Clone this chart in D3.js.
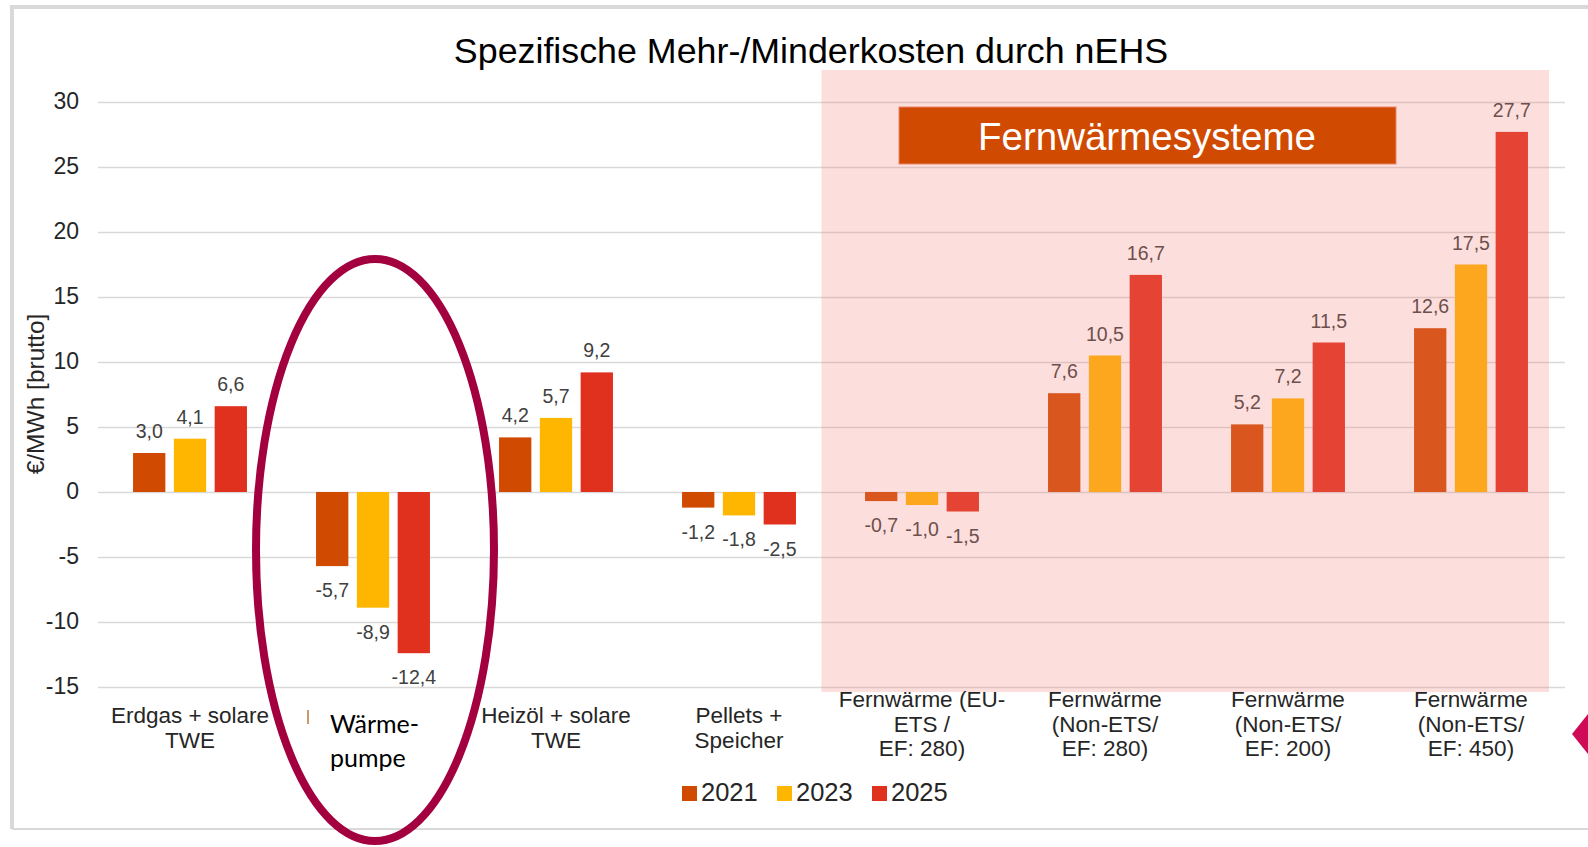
<!DOCTYPE html>
<html>
<head>
<meta charset="utf-8">
<script src="https://cdn.jsdelivr.net/npm/d3@7/dist/d3.min.js"></script>
<style>
  html, body { margin: 0; padding: 0; background: #fff; }
  svg { display: block; font-family: "Liberation Sans", Arial, sans-serif; }
</style>
</head>
<body>
<svg id="chart" width="1588" height="847"></svg>
<script>
// Daten
const categories = [
    'Erdgas + solare\nTWE',
    'Wärmepumpe',
    'Heizöl + solare\nTWE',
    'Pellets +\nSpeicher',
    'Fernwärme (EU-\nETS /\nEF: 280)',
    'Fernwärme\n(Non-ETS/\nEF: 280)',
    'Fernwärme\n(Non-ETS/\nEF: 200)',
    'Fernwärme\n(Non-ETS/\nEF: 450)'
];
const years = ['2021', '2023', '2025'];
const values2021 = [3.0, -5.7, 4.2, -1.2, -0.7, 7.6, 5.2, 12.6];
const values2023 = [4.1, -8.9, 5.7, -1.8, -1.0, 10.5, 7.2, 17.5];
const values2025 = [6.6, -12.4, 9.2, -2.5, -1.5, 16.7, 11.5, 27.7];
const yTicks = [-15, -10, -5, 0, 5, 10, 15, 20, 25, 30];
const yearColors = ['#D04A02', '#FFB600', '#E0301E'];
const highlightIndex = 1;            // Wärmepumpe (eingekreist)
const highlightLabel = ['Wärme-', 'pumpe'];
const districtStart = 4;             // ab hier Fernwärmesysteme

const series = [values2021, values2023, values2025];
const svg = d3.select('#chart');
// Komma als Dezimaltrenner, normales Minuszeichen
const fmt = v => d3.format('.1f')(v).replace('.', ',').replace('\u2212', '-');

const x = d3.scaleBand().domain(categories).range([98.5, 1562.5]);
const xs = d3.scaleBand().domain(years).range([30.3, 152.7])
    .paddingInner(0.208).paddingOuter(0.104);
const y = d3.scaleLinear().domain([-15, 30]).range([687, 102]);
const color = d3.scaleOrdinal().domain(years).range(yearColors);

// Rahmen
svg.append('path')
    .attr('d', 'M12,829 L12,7 L1588,7')
    .attr('fill', 'none').attr('stroke', '#D9D9D9').attr('stroke-width', 4);
svg.append('line')
    .attr('x1', 12).attr('x2', 1588).attr('y1', 829).attr('y2', 829)
    .attr('stroke', '#D9D9D9').attr('stroke-width', 2);

// Titel
svg.append('text')
    .attr('x', 811).attr('y', 63)
    .attr('text-anchor', 'middle')
    .attr('font-size', 35.8)
    .attr('fill', '#000')
    .text('Spezifische Mehr-/Minderkosten durch nEHS');

// Y-Achse mit Gitterlinien
const yAxis = svg.append('g')
    .attr('transform', 'translate(98,0)')
    .call(d3.axisLeft(y).tickValues(yTicks)
        .tickFormat(d => String(d))
        .tickSize(-(1565 - 98)).tickPadding(19));
yAxis.select('.domain').remove();
yAxis.selectAll('.tick line').attr('stroke', '#D9D9D9').attr('stroke-width', 1.5);
yAxis.selectAll('.tick text')
    .attr('font-size', 23)
    .attr('fill', '#262626')
    .attr('font-family', '"Liberation Sans", Arial, sans-serif')
    .attr('dy', '0.3em');

svg.append('text')
    .attr('transform', 'translate(44,394) rotate(-90)')
    .attr('text-anchor', 'middle')
    .attr('font-size', 24.5)
    .attr('fill', '#262626')
    .text('€/MWh [brutto]');

// Balken
const groups = svg.append('g').selectAll('g')
    .data(categories)
    .join('g')
    .attr('transform', d => `translate(${x(d)},0)`);

groups.selectAll('rect')
    .data((d, i) => years.map((yr, k) => ({ yr, v: series[k][i] })))
    .join('rect')
    .attr('x', d => xs(d.yr))
    .attr('width', xs.bandwidth())
    .attr('y', d => y(Math.max(0, d.v)))
    .attr('height', d => Math.abs(y(d.v) - y(0)))
    .attr('fill', d => color(d.yr));

// Datenbeschriftungen
groups.selectAll('text')
    .data((d, i) => years.map((yr, k) => ({ yr, v: series[k][i] })))
    .join('text')
    .attr('x', d => xs(d.yr) + xs.bandwidth() / 2)
    .attr('y', d => d.v >= 0 ? y(d.v) - 15 : y(d.v) + 31)
    .attr('text-anchor', 'middle')
    .attr('font-size', 19.5)
    .attr('fill', '#404040')
    .text(d => fmt(d.v));

// Fernwärme-Bereich (halbtransparent)
const fwLeft = x(categories[districtStart]) - 9;
svg.append('rect')
    .attr('x', fwLeft).attr('y', 70)
    .attr('width', 1549 - fwLeft).attr('height', 692 - 70)
    .attr('fill', 'rgb(245,125,115)')
    .attr('fill-opacity', 0.25);

svg.append('rect')
    .attr('x', 899).attr('y', 107)
    .attr('width', 497).attr('height', 57)
    .attr('fill', '#D04A02')
    .attr('stroke', '#E9866A').attr('stroke-width', 1);
svg.append('text')
    .attr('x', 1147).attr('y', 150)
    .attr('text-anchor', 'middle')
    .attr('font-size', 38.5)
    .attr('fill', '#fff')
    .text('Fernwärmesysteme');

// Kategorienbeschriftungen
categories.forEach((c, i) => {
    if (i === highlightIndex) return;
    const lines = c.split('\n');
    const first = 723 - (lines.length - 2) * 16;
    const t = svg.append('text')
        .attr('text-anchor', 'middle')
        .attr('font-size', 22.5)
        .attr('fill', '#262626');
    lines.forEach((ln, k) => {
        t.append('tspan')
            .attr('x', x(c) + x.bandwidth() / 2)
            .attr('y', first + k * 24.5)
            .text(ln);
    });
});

// Rest der alten Beschriftung
svg.append('line')
    .attr('x1', 308).attr('x2', 308).attr('y1', 710).attr('y2', 724)
    .attr('stroke', '#B8793A').attr('stroke-width', 1.5);

const hl = svg.append('text')
    .attr('font-family', 'Lato, "Open Sans", sans-serif')
    .attr('font-size', 25)
    .attr('fill', '#000');
highlightLabel.forEach((ln, k) => {
    hl.append('tspan').attr('x', 330).attr('y', 733 + k * 34).text(ln);
});

// Ellipse um Wärmepumpe
svg.append('ellipse')
    .attr('cx', x(categories[highlightIndex]) + x.bandwidth() / 2 + 2)
    .attr('cy', 550)
    .attr('rx', 119).attr('ry', 291)
    .attr('fill', 'none')
    .attr('stroke', '#A3003F')
    .attr('stroke-width', 8);

// Legende
const legend = svg.append('g').selectAll('g')
    .data(years)
    .join('g')
    .attr('transform', (d, i) => `translate(${682 + i * 95},786)`);
legend.append('rect')
    .attr('width', 15).attr('height', 15)
    .attr('fill', d => color(d));
legend.append('text')
    .attr('x', 19).attr('y', 15)
    .attr('font-size', 25.5)
    .attr('fill', '#262626')
    .text(d => d);

// angeschnittene Form am rechten Rand
svg.append('polygon')
    .attr('points', '1572,734 1592,709 1592,759')
    .attr('fill', '#CF0A57');
</script>
</body>
</html>
